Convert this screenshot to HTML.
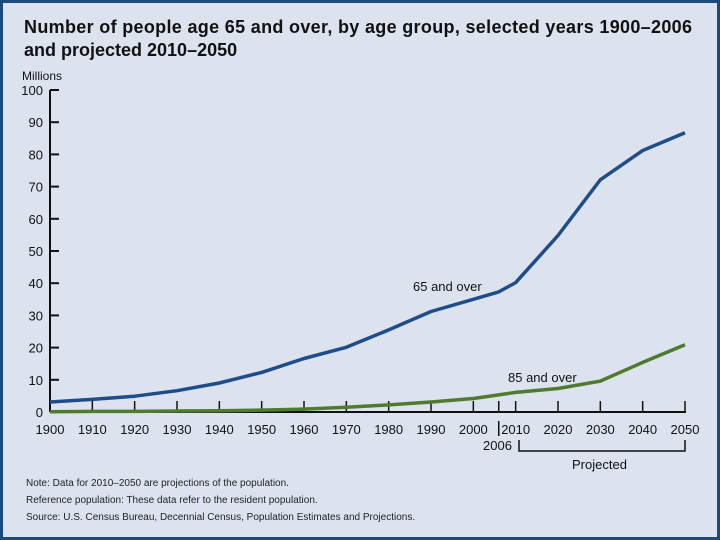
<!DOCTYPE html>
<html><head><meta charset="utf-8"><style>
body{margin:0;width:720px;height:540px;overflow:hidden;background:#dce3ef;font-family:"Liberation Sans",sans-serif}
#frame{position:absolute;left:0;top:0;width:714px;height:534px;border:3px solid #1d4a7c;background:#dce3ef}
</style></head><body>
<div id="frame"></div>
<svg id="chart" width="720" height="540" style="position:absolute;left:0;top:0">
<text x="24" y="33" font-size="18" font-weight="bold" fill="#111" textLength="668">Number of people age 65 and over, by age group, selected years 1900–2006</text>
<text x="24" y="56" font-size="18" font-weight="bold" fill="#111">and projected 2010–2050</text>
<text x="22" y="80" font-size="12" fill="#111">Millions</text>
<g id="axes"></g><g id="series"></g>
<text x="413" y="291" font-size="13" fill="#111">65 and over</text>
<text x="508" y="382" font-size="13" fill="#111">85 and over</text>
<text x="483" y="450" font-size="13" fill="#111">2006</text>
<path d="M519 440 V451 H685 V440" fill="none" stroke="#111" stroke-width="1.5"/>
<text x="572" y="469" font-size="13" fill="#111">Projected</text>
<text x="26" y="486" font-size="10" fill="#222">Note: Data for 2010–2050 are projections of the population.</text>
<text x="26" y="503" font-size="10" fill="#222">Reference population: These data refer to the resident population.</text>
<text x="26" y="520" font-size="10" fill="#222">Source: U.S. Census Bureau, Decennial Census, Population Estimates and Projections.</text>
</svg>
<script>
const years=[1900,1910,1920,1930,1940,1950,1960,1970,1980,1990,2000,2006,2010,2020,2030,2040,2050];
const over65=[3.1,3.9,4.9,6.6,9.0,12.3,16.6,20.1,25.5,31.2,35.0,37.3,40.2,54.8,72.1,81.2,86.7];
const over85=[0.1,0.2,0.2,0.3,0.4,0.6,0.9,1.5,2.2,3.1,4.2,5.3,6.1,7.3,9.6,15.4,20.9];
const yTicks=[0,10,20,30,40,50,60,70,80,90,100];
const xTicks=[1900,1910,1920,1930,1940,1950,1960,1970,1980,1990,2000,2010,2020,2030,2040,2050];
const NS='http://www.w3.org/2000/svg';
const X=v=>50+(v-1900)*635/150, Y=v=>412-v*3.22;
function mk(p,t,a){const e=document.createElementNS(NS,t);for(const k in a)e.setAttribute(k,a[k]);p.appendChild(e);return e;}
const ax=document.getElementById('axes'), se=document.getElementById('series');
let e=mk(ax,'line',{x1:50,y1:Y(0),x2:50,y2:Y(100),stroke:'#111','stroke-width':2});

e=mk(ax,'line',{x1:50,y1:Y(0),x2:686,y2:Y(0),stroke:'#111','stroke-width':2});

yTicks.forEach(v=>{
 mk(ax,'line',{x1:50,x2:59,y1:Y(v),y2:Y(v),stroke:'#111','stroke-width':2});
 const t=mk(ax,'text',{x:43,y:Y(v)+5,'font-size':13,'text-anchor':'end',fill:'#111'});t.textContent=v;
 
});
xTicks.forEach(v=>{
 mk(ax,'line',{x1:X(v),x2:X(v),y1:Y(0),y2:Y(0)-11,stroke:'#111','stroke-width':1.5});
 const t=mk(ax,'text',{x:X(v),y:434,'font-size':13,'text-anchor':'middle',fill:'#111'});t.textContent=v;
 
});
mk(ax,'line',{x1:X(2006),x2:X(2006),y1:Y(0),y2:Y(0)-11,stroke:'#111','stroke-width':1.5});
mk(ax,'line',{x1:X(2006),x2:X(2006),y1:421,y2:436,stroke:'#111','stroke-width':1.5});
function line(vals,col,name){
 const d=vals.map((v,i)=>(i?'L':'M')+X(years[i]).toFixed(1)+' '+Y(v).toFixed(1)).join(' ');
 const p=mk(se,'path',{d:d,fill:'none',stroke:col,'stroke-width':3.5,'stroke-linejoin':'round'});
 
}
line(over85,'#4f7b2f','line-85-over');
line(over65,'#1f4d8a','line-65-over');
</script>
</body></html>
